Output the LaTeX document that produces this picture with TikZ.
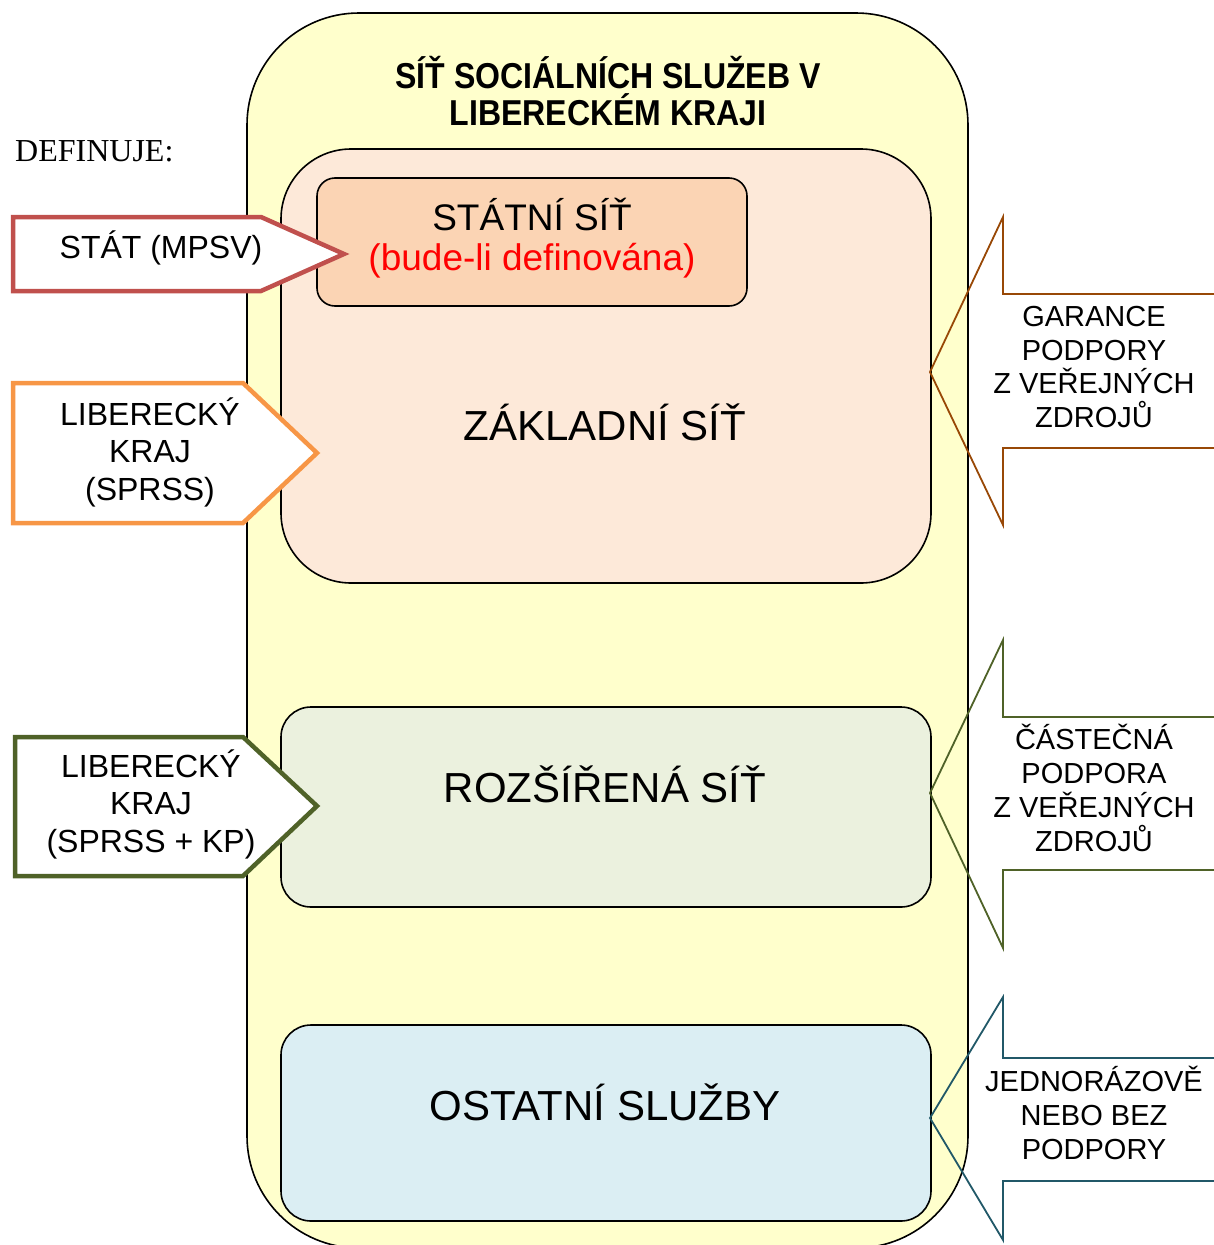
\documentclass[tikz,border=0pt]{standalone}
\usepackage{fontspec}
\setmainfont{Liberation Sans}
\newfontfamily\serifont{Liberation Serif}
\newfontfamily\titlefont[FakeStretch=0.89]{Liberation Sans}
\definecolor{cyellow}{HTML}{FFFFCC}
\definecolor{cpeach}{HTML}{FDE9D9}
\definecolor{cstate}{HTML}{FBD4B4}
\definecolor{cgreen}{HTML}{EBF1DE}
\definecolor{cblue}{HTML}{DBEEF3}
\definecolor{cred}{HTML}{C0504D}
\definecolor{corange}{HTML}{F79646}
\definecolor{colive}{HTML}{4F6228}
\definecolor{cbrown}{HTML}{984806}
\definecolor{cteal}{HTML}{215868}
\definecolor{ctextred}{HTML}{FF0000}
\tikzset{
  areabox/.style={draw=black, line width=1.6pt, inner sep=0pt},
  leftarrow/.style={fill=white, line width=4.5pt, line join=miter},
  rightarrow/.style={line width=1.8pt, line join=miter},
  lefttext/.style={inner sep=0pt, align=center, font=\fontsize{32}{37.5}\selectfont},
  righttext/.style={inner sep=0pt, align=center, font=\fontsize{29}{33.7}\selectfont},
  maintext/.style={inner sep=0pt, align=center, font=\fontsize{42}{48}\selectfont},
}
\begin{document}
\begin{tikzpicture}[x=1pt,y=-1pt]
\useasboundingbox (0,0) rectangle (1214,1245);
% main yellow box
\node[areabox, fill=cyellow, rounded corners=112pt, minimum width=721pt, minimum height=1235pt] (sit) at (607.5,630.5) {};
\node[inner sep=0pt, align=center, font=\titlefont\bfseries\fontsize{36}{37}\selectfont] (title) at (608,91) {SÍŤ SOCIÁLNÍCH SLUŽEB V\\LIBERECKÉM KRAJI};
% basic network
\node[areabox, fill=cpeach, rounded corners=70pt, minimum width=650pt, minimum height=434pt] (zakl) at (606,366) {};
\node[areabox, fill=cstate, rounded corners=18pt, minimum width=430pt, minimum height=128pt] (statbox) at (532,242) {};
\node[inner sep=0pt, font=\fontsize{37}{43}\selectfont] (stattext) at (532,215) {STÁTNÍ SÍŤ};
\node[inner sep=0pt, font=\fontsize{37}{43}\selectfont, text=ctextred] (stattext2) at (532,261) {(bude-li definována)};
\node[maintext] (zakltext) at (605,422) {ZÁKLADNÍ SÍŤ};
% extended network
\node[areabox, fill=cgreen, rounded corners=30pt, minimum width=650pt, minimum height=200pt] (rozs) at (606,807) {};
\node[maintext] (rozstext) at (605,784) {ROZŠÍŘENÁ SÍŤ};
% other services
\node[areabox, fill=cblue, rounded corners=30pt, minimum width=650pt, minimum height=196pt] (ost) at (606,1123) {};
\node[maintext] (osttext) at (605,1102) {OSTATNÍ SLUŽBY};
% left label
\node[inner sep=0pt, anchor=base west, font=\serifont\fontsize{32}{36}\selectfont] (def) at (15,161) {DEFINUJE:};
% left arrows
\draw[leftarrow, draw=cred] (13,217) -- (261,217) -- (344,254) -- (261,291) -- (13,291) -- cycle;
\node[lefttext] (stat) at (161,248) {STÁT (MPSV)};
\draw[leftarrow, draw=corange] (13,383) -- (243,383) -- (317,453) -- (243,523) -- (13,523) -- cycle;
\node[lefttext] (lk1) at (150,452) {LIBERECKÝ\\KRAJ\\(SPRSS)};
\draw[leftarrow, draw=colive] (15,737) -- (243,737) -- (317,806) -- (243,876) -- (15,876) -- cycle;
\node[lefttext] (lk2) at (151,804) {LIBERECKÝ\\KRAJ\\(SPRSS + KP)};
% right arrows
\draw[rightarrow, draw=cbrown] (1220,294) -- (1003,294) -- (1003,217) -- (930,372) -- (1003,525) -- (1003,448) -- (1220,448);
\node[righttext] (gar) at (1094,367) {GARANCE\\PODPORY\\Z VEŘEJNÝCH\\ZDROJŮ};
\draw[rightarrow, draw=colive] (1220,717) -- (1003,717) -- (1003,640) -- (930,793) -- (1003,948) -- (1003,870) -- (1220,870);
\node[righttext] (cast) at (1094,788) {ČÁSTEČNÁ\\PODPORA\\Z VEŘEJNÝCH\\ZDROJŮ};
\draw[rightarrow, draw=cteal] (1220,1058) -- (1003,1058) -- (1003,997) -- (930,1118) -- (1003,1240) -- (1003,1181) -- (1220,1181);
\node[righttext] (jedn) at (1094,1113) {JEDNORÁZOVĚ\\NEBO BEZ\\PODPORY};
\end{tikzpicture}
\end{document}
